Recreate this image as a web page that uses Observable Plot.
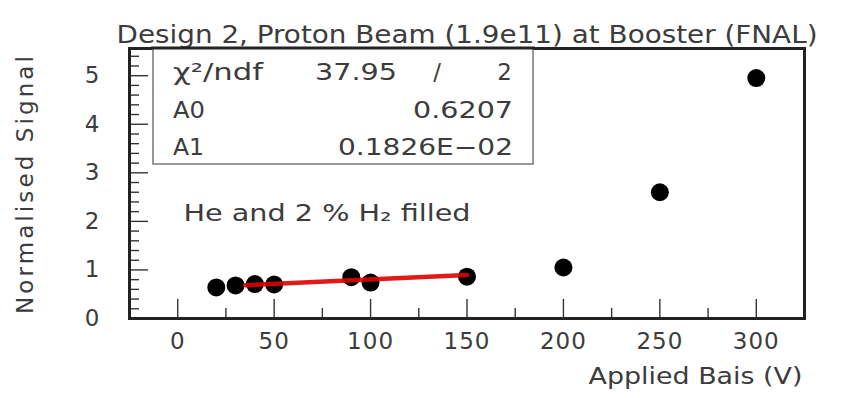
<!DOCTYPE html>
<html>
<head>
<meta charset="utf-8">
<script src="https://cdn.jsdelivr.net/npm/d3@7"></script>
<script src="https://cdn.jsdelivr.net/npm/@observablehq/plot@0.6"></script>
<style>
  body { margin: 0; background: #fff; }
  #chart svg text { letter-spacing: 1px; }
</style>
</head>
<body>
<div id="chart"></div>
<script>
// Measured signal vs applied bias
const bias   = [20, 30, 40, 50, 90, 100, 150, 200, 250, 300];
const signal = [0.64, 0.68, 0.71, 0.70, 0.85, 0.74, 0.86, 1.05, 2.60, 4.95];

// Linear fit (pol1) and its statistics
const fitA0 = 0.6207;
const fitA1 = 0.1826e-2;
const fitRange = [35, 150];
const fitStatsRows = [
  ["χ²/ndf", "37.95", "/", "2"],
  ["A0", "", "", "0.6207"],
  ["A1", "", "", "0.1826E\u221202"]
];

// Axis ticks
const xMajorTicks = [0, 50, 100, 150, 200, 250, 300];
const xMinorTicks = [25, 75, 125, 175, 225, 275];
const yMajorTicks = [0, 1, 2, 3, 4, 5];
const yMinorTicks = d3.range(0, 5.5, 0.2).filter(v => Math.abs(v - Math.round(v)) > 1e-6);

const titleText = "Design 2, Proton Beam (1.9e11) at Booster (FNAL)";
const xLabel = "Applied Bais (V)";
const yLabel = "Normalised Signal";
const gasLabel = "He and 2 % H\u2082 filled";
const gasLabelAt = {x: 3, y: 2.16};

const points = bias.map((b, i) => ({bias: b, signal: signal[i]}));
const fitLine = fitRange.map(b => ({bias: b, signal: fitA0 + fitA1 * b}));

const ink = "#3c3c3c";
const font = "DejaVu Sans";

const W = 844, H = 398;
const M = {left: 129, right: 40, top: 48, bottom: 80};
const frameW = W - M.left - M.right;
const frameH = H - M.top - M.bottom;
const majorLen = 19, minorLen = 10;
const tickStyle = {stroke: "#333", strokeWidth: 1.4};

const plot = Plot.plot({
  width: W,
  height: H,
  marginLeft: M.left,
  marginRight: M.right,
  marginTop: M.top,
  marginBottom: M.bottom,
  x: {domain: [-25, 325]},
  y: {domain: [0, 5.56]},
  style: {fontFamily: font, background: "#fff", color: ink, overflow: "visible"},
  marks: [
    // tick labels
    Plot.axisX(xMajorTicks, {tickSize: 0, tickPadding: 14, fontSize: 23, label: null, fill: ink}),
    Plot.axisY(yMajorTicks, {tickSize: 0, tickPadding: 29, fontSize: 23, label: null, fill: ink}),
    // inward ticks along the bottom and left edges
    Plot.tickX(xMajorTicks, {x: d => d, insetTop: frameH - majorLen, ...tickStyle}),
    Plot.tickX(xMinorTicks, {x: d => d, insetTop: frameH - minorLen, ...tickStyle}),
    Plot.tickY(yMajorTicks, {y: d => d, insetRight: frameW - majorLen, ...tickStyle}),
    Plot.tickY(yMinorTicks, {y: d => d, insetRight: frameW - minorLen, ...tickStyle}),
    // data
    Plot.dot(points, {x: "bias", y: "signal", r: 9, fill: "#000", stroke: "none"}),
    Plot.line(fitLine, {x: "bias", y: "signal", stroke: "#dd0000", strokeWidth: 4.5, strokeOpacity: 0.9}),
    Plot.frame({stroke: "#222", strokeWidth: 3}),
    // texts
    Plot.text([titleText], {frameAnchor: "top", dy: -23, fontSize: 25, fill: ink}),
    Plot.text([xLabel], {frameAnchor: "bottom-right", textAnchor: "end", dx: -2, dy: 65, fontSize: 23, fill: ink}),
    Plot.text([yLabel], {frameAnchor: "left", textAnchor: "middle", rotate: -90, dx: -104, dy: 0, fontSize: 23, fill: ink}),
    Plot.text([gasLabel], {x: () => gasLabelAt.x, y: () => gasLabelAt.y, textAnchor: "start", fontSize: 23, fill: ink})
  ]
});

document.getElementById("chart").appendChild(plot);
const svg = d3.select(plot);

// stretch headings to the wide lettering of the chart
function fitWidth(sel, width) {
  sel.attr("textLength", width).attr("lengthAdjust", "spacingAndGlyphs").style("letter-spacing", "0px");
}
function byContent(content) {
  return svg.selectAll("text").filter(function () { return this.textContent === content; });
}
fitWidth(byContent(titleText), 701);
fitWidth(byContent(xLabel), 214);
fitWidth(byContent(gasLabel), 287);
byContent(yLabel).style("letter-spacing", "3.1px");

// fit statistics box in the top-left corner of the frame
const box = {left: 153, top: 48, right: 533, bottom: 164, rowY: [80, 118, 155]};
const stats = svg.append("g").attr("font-family", font).attr("font-size", 23).attr("fill", ink);
stats.append("rect")
  .attr("x", box.left).attr("y", box.top)
  .attr("width", box.right - box.left).attr("height", box.bottom - box.top)
  .attr("fill", "#fff").attr("stroke", "#777").attr("stroke-width", 1.5);
// redraw the frame's top edge over the box
stats.append("line").attr("x1", box.left - 2).attr("x2", box.right + 2)
  .attr("y1", M.top).attr("y2", M.top).attr("stroke", "#222").attr("stroke-width", 3);
const colX = [173, 397, 442, 513];
const colAnchor = ["start", "end", "end", "end"];
const cellWidth = {"χ²/ndf": 90, "37.95": 82, "A0": 32, "A1": 31, "0.6207": 100, "0.1826E\u221202": 175};
fitStatsRows.forEach((row, r) => {
  row.forEach((s, c) => {
    if (!s) return;
    const t = stats.append("text")
      .attr("x", colX[c]).attr("y", box.rowY[r])
      .attr("text-anchor", colAnchor[c])
      .text(s);
    if (cellWidth[s]) fitWidth(t, cellWidth[s]);
  });
});
</script>
</body>
</html>
